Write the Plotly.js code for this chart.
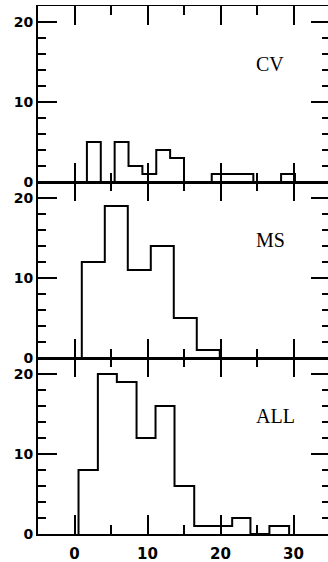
<!DOCTYPE html>
<html>
<head>
<meta charset="utf-8">
<script src="https://cdn.plot.ly/plotly-3.0.1.min.js"></script>
<style>
html,body{margin:0;padding:0;overflow:hidden;background:#fff;width:328px;height:562px;}
#chart{width:332px;height:562px;}
</style>
</head>
<body>
<div id="chart"></div>
<script>
// Histogram bin edges and counts for each panel
const cvEdges = [1.7, 3.6, 5.5, 7.4, 9.3, 11.2, 13.1, 15.0, 16.9, 18.8, 20.7, 22.6, 24.5, 26.4, 28.3, 30.2];
const cvCounts = [5, 0, 5, 2, 1, 4, 3, 0, 0, 1, 1, 1, 0, 0, 1];
const msEdges = [1.0, 4.15, 7.3, 10.45, 13.6, 16.75, 19.9];
const msCounts = [12, 19, 11, 14, 5, 1];
const allEdges = [0.55, 3.2, 5.8, 8.5, 11.1, 13.7, 16.4, 19.0, 21.6, 24.1, 26.7, 29.4];
const allCounts = [8, 20, 19, 12, 16, 6, 1, 1, 2, 0, 1];
const panelLabels = ["CV", "MS", "ALL"];
const xTickVals = [0, 10, 20, 30];
const yTickVals = [0, 10, 20];

function stepTrace(edges, counts, xa, ya) {
  const x = [edges[0]];
  const y = [0];
  for (let i = 0; i < counts.length; i++) { x.push(edges[i]); y.push(counts[i]); }
  x.push(edges[edges.length - 1]); y.push(0);
  return {x: x, y: y, xaxis: xa, yaxis: ya, type: 'scatter', mode: 'lines',
          line: {shape: 'hv', color: '#000', width: 2}, hoverinfo: 'skip', showlegend: false};
}

const data = [
  stepTrace(cvEdges, cvCounts, 'x3', 'y3'),
  stepTrace(msEdges, msCounts, 'x2', 'y2'),
  stepTrace(allEdges, allCounts, 'x', 'y')
];

const tickFont = {family: 'DejaVu Sans', size: 14, color: '#000', weight: 'bold'};
function xax(showLabels, anchor) {
  return {range: [-5, 35], anchor: anchor, showgrid: false, zeroline: false,
    showline: true, linecolor: '#000', linewidth: 1.5, mirror: 'allticks',
    ticks: 'inside', tickvals: xTickVals, ticklen: 19, tickwidth: 2, tickcolor: '#000',
    minor: {tickvals: [-5, 5, 15, 25, 35], ticks: 'inside', ticklen: 9, tickwidth: 2, tickcolor: '#000'},
    showticklabels: showLabels, tickfont: {family: 'DejaVu Sans', size: 15, color: '#000', weight: 'bold'},
    ticklabelstandoff: 5, fixedrange: true};
}
function yax(domain, anchor, shift) {
  return {range: [0, 22], domain: domain, anchor: anchor, showgrid: false, zeroline: false,
    showline: true, linecolor: '#000', linewidth: 2, mirror: 'allticks',
    ticks: 'inside', tickvals: yTickVals, ticklen: 19, tickwidth: 2, tickcolor: '#000',
    minor: {dtick: 2, ticks: 'inside', ticklen: 8, tickwidth: 2, tickcolor: '#000'},
    showticklabels: true, tickfont: tickFont, ticklabelshift: shift, fixedrange: true};
}

const ann = [['x3','y3'],['x2','y2'],['x','y']].map((a, i) => ({
  xref: a[0], yref: a[1], x: 24.6, y: 14.7, xanchor: 'left', yanchor: 'middle',
  text: panelLabels[i], showarrow: false,
  font: {family: 'Liberation Serif', size: 20, color: '#000'}
}));

const layout = {
  width: 332, height: 562,
  margin: {l: 38, r: 2, t: 6, b: 28},
  paper_bgcolor: '#fff', plot_bgcolor: '#fff',
  xaxis: xax(true, 'y'),
  xaxis2: xax(false, 'y2'),
  xaxis3: xax(false, 'y3'),
  yaxis: yax([0, 1/3], 'x', -1.5),
  yaxis2: yax([1/3, 2/3], 'x2', 0),
  yaxis3: yax([2/3, 1], 'x3', 1.5),
  annotations: ann
};

Plotly.newPlot('chart', data, layout, {staticPlot: true, displayModeBar: false});
</script>
</body>
</html>
